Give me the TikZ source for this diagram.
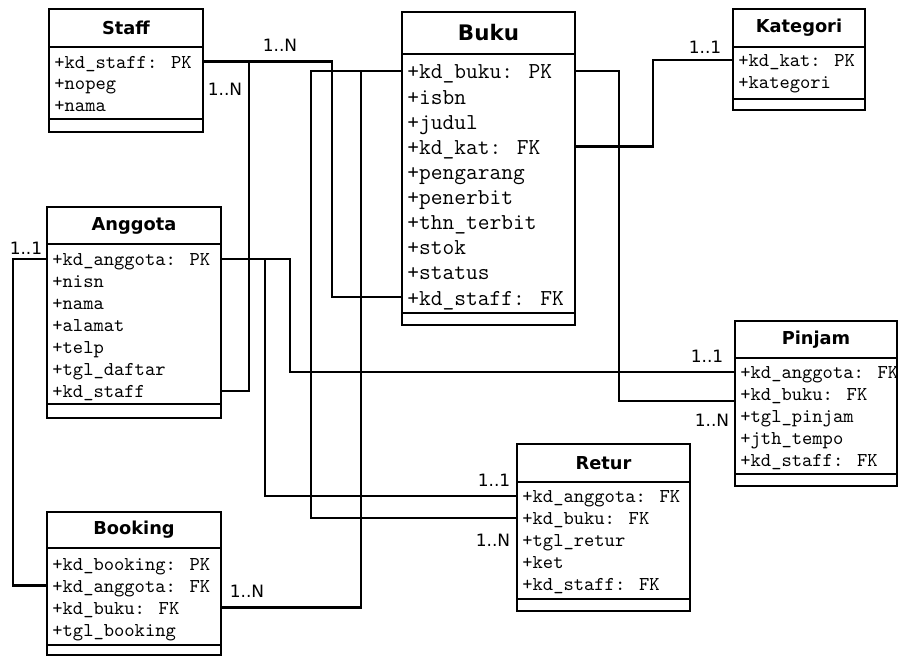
\documentclass[tikz,border=0pt]{standalone}
\usepackage{fontspec}
\setmainfont{DejaVu Sans}
\usetikzlibrary{positioning}

\begin{document}
\begin{tikzpicture}[x=1pt, y=-1pt,
    box/.style={draw, line width=1.4pt, inner sep=0pt, outer sep=0pt, anchor=north west},
    head/.style={box, font=\bfseries\fontsize{8.9}{10}\selectfont},
    attr/.style={anchor=west, inner sep=0pt, text height=7pt, text depth=0pt, font=\ttfamily\fontsize{9.8}{11}\selectfont},
    bigattr/.style={attr, text height=8pt, font=\ttfamily\fontsize{11.4}{13}\selectfont},
    link/.style={line width=1.2pt},
    mult/.style={inner sep=0pt, font=\fontsize{8.5}{10}\selectfont}]
  \useasboundingbox (0,0) rectangle (450.5,328.5);

  % Staff
  \node[head, minimum width=77pt, minimum height=19pt] (staff-t) at (24.5,4.5) {Staff};
  \node[box, minimum width=77pt, minimum height=36pt, below=0pt of staff-t] (staff) {};
  \node[box, minimum width=77pt, minimum height=6.5pt, below=0pt of staff] (staff-o) {};
  \foreach \a [count=\i] in {+kd\_staff: PK, +nopeg, +nama}
    \node[attr] (staff-\i) at ([xshift=2.5pt, yshift={-7.25pt-(\i-1)*10.75pt}]staff.north west) {\a};

  % Buku
  \node[head, font=\bfseries\fontsize{10.7}{12}\selectfont, minimum width=86.5pt, minimum height=21pt] (buku-t) at (201,6) {Buku};
  \node[box, minimum width=86.5pt, minimum height=129.5pt, below=0pt of buku-t] (buku) {};
  \node[box, minimum width=86.5pt, minimum height=6pt, below=0pt of buku] (buku-o) {};
  \foreach \a [count=\i] in {+kd\_buku: PK, +isbn, +judul, +kd\_kat: FK, +pengarang, +penerbit, +thn\_terbit, +stok, +status, +kd\_staff: FK}
    \node[bigattr] (buku-\i) at ([xshift=2.5pt, yshift={-8.5pt-(\i-1)*12.56pt}]buku.north west) {\a};

  % Kategori
  \node[head, minimum width=66pt, minimum height=19pt] (kategori-t) at (366.5,4.5) {Kategori};
  \node[box, minimum width=66pt, minimum height=26pt, below=0pt of kategori-t] (kategori) {};
  \node[box, minimum width=66pt, minimum height=5.5pt, below=0pt of kategori] (kategori-o) {};
  \foreach \a [count=\i] in {+kd\_kat: PK, +kategori}
    \node[attr] (kategori-\i) at ([xshift=2.5pt, yshift={-6.5pt-(\i-1)*11pt}]kategori.north west) {\a};

  % Anggota
  \node[head, minimum width=87pt, minimum height=18.5pt] (anggota-t) at (23.5,103.5) {Anggota};
  \node[box, minimum width=87pt, minimum height=80pt, below=0pt of anggota-t] (anggota) {};
  \node[box, minimum width=87pt, minimum height=7pt, below=0pt of anggota] (anggota-o) {};
  \foreach \a [count=\i] in {+kd\_anggota: PK, +nisn, +nama, +alamat, +telp, +tgl\_daftar, +kd\_staff}
    \node[attr] (anggota-\i) at ([xshift=2.5pt, yshift={-7.5pt-(\i-1)*11pt}]anggota.north west) {\a};

  % Pinjam
  \node[head, minimum width=81pt, minimum height=18.5pt] (pinjam-t) at (367.5,160.5) {Pinjam};
  \node[box, minimum width=81pt, minimum height=58pt, below=0pt of pinjam-t] (pinjam) {};
  \node[box, minimum width=81pt, minimum height=6pt, below=0pt of pinjam] (pinjam-o) {};
  \foreach \a [count=\i] in {+kd\_anggota: FK, +kd\_buku: FK, +tgl\_pinjam, +jth\_tempo, +kd\_staff: FK}
    \node[attr] (pinjam-\i) at ([xshift=2.5pt, yshift={-7pt-(\i-1)*11pt}]pinjam.north west) {\a};

  % Retur
  \node[head, minimum width=86.5pt, minimum height=19pt] (retur-t) at (258.5,222) {Retur};
  \node[box, minimum width=86.5pt, minimum height=58.5pt, below=0pt of retur-t] (retur) {};
  \node[box, minimum width=86.5pt, minimum height=6pt, below=0pt of retur] (retur-o) {};
  \foreach \a [count=\i] in {+kd\_anggota: FK, +kd\_buku: FK, +tgl\_retur, +ket, +kd\_staff: FK}
    \node[attr] (retur-\i) at ([xshift=2.5pt, yshift={-7pt-(\i-1)*10.9pt}]retur.north west) {\a};

  % Booking
  \node[head, minimum width=87pt, minimum height=18pt] (booking-t) at (23.5,256) {Booking};
  \node[box, minimum width=87pt, minimum height=48.5pt, below=0pt of booking-t] (booking) {};
  \node[box, minimum width=87pt, minimum height=5pt, below=0pt of booking] (booking-o) {};
  \foreach \a [count=\i] in {+kd\_booking: PK, +kd\_anggota: FK, +kd\_buku: FK, +tgl\_booking}
    \node[attr] (booking-\i) at ([xshift=2.5pt, yshift={-8pt-(\i-1)*10.85pt}]booking.north west) {\a};

  % Vertical runs of the links
  \coordinate (x-ab) at (6.5,0);
  \coordinate (x-sa) at (124.5,0);
  \coordinate (x-ar) at (132.5,0);
  \coordinate (x-ap) at (145,0);
  \coordinate (x-br) at (155.5,0);
  \coordinate (x-sb) at (166,0);
  \coordinate (x-bb) at (180.5,0);
  \coordinate (x-bp) at (309.5,0);
  \coordinate (x-bk) at (326.5,0);

  % Links
  \draw[link] (staff.east |- staff-1) -| (x-sb |- buku-10) -- (buku.west |- buku-10);
  \draw[link] (staff.east |- staff-1) -| (x-sa |- anggota-7) -- (anggota.east |- anggota-7);
  \draw[link] (buku.east |- buku-4) -| (x-bk |- kategori-1) -- (kategori.west |- kategori-1);
  \draw[link] (buku.east |- buku-1) -| (x-bp |- pinjam-2.base) -- (pinjam.west |- pinjam-2.base);
  \draw[link] (buku.west |- buku-1) -| (x-br |- retur-2) -- (retur.west |- retur-2);
  \draw[link] (buku.west |- buku-1) -| (x-bb |- booking-3) -- (booking.east |- booking-3);
  \draw[link] (anggota.east |- anggota-1) -| (x-ap |- pinjam-1) -- (pinjam.west |- pinjam-1);
  \draw[link] (anggota.east |- anggota-1) -| (x-ar |- retur-1) -- (retur.west |- retur-1);
  \draw[link] (anggota.west |- anggota-1) -| (x-ab |- booking-2) -- (booking.west |- booking-2);

  % Multiplicities
  \node[mult] (m-sb) at (140,22.5) {1..N};
  \node[mult] (m-sa) at (112.5,44.5) {1..N};
  \node[mult] (m-bk) at (352.5,23.5) {1..1};
  \node[mult] (m-ab) at (13,124) {1..1};
  \node[mult] (m-ap) at (353.5,178) {1..1};
  \node[mult] (m-bp) at (356,210) {1..N};
  \node[mult] (m-ar) at (247,240) {1..1};
  \node[mult] (m-br) at (246.5,270) {1..N};
  \node[mult] (m-bb) at (123.5,295.5) {1..N};
\end{tikzpicture}
\end{document}
